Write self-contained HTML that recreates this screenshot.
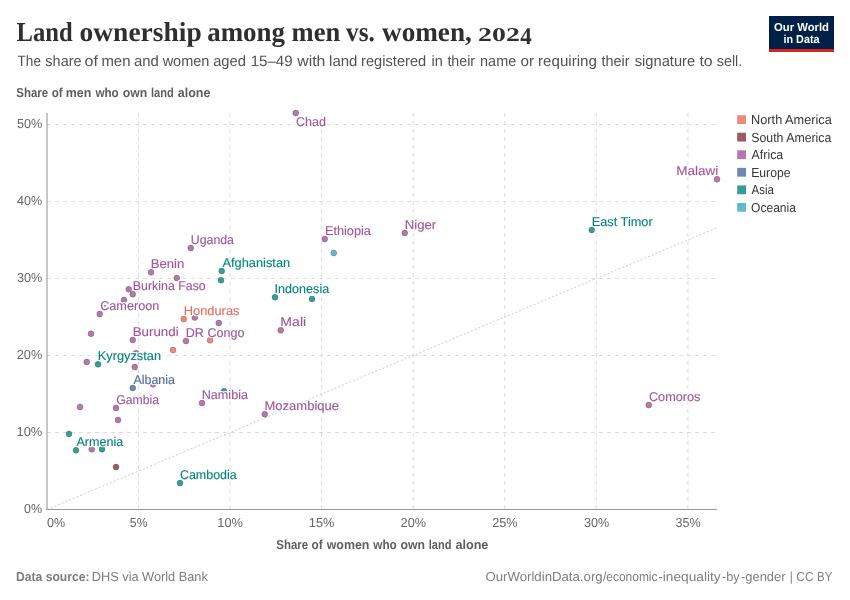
<!DOCTYPE html>
<html lang="en">
<head>
<meta charset="utf-8">
<title>Land ownership among men vs. women, 2024</title>
<style>
html,body{margin:0;padding:0;background:#fff;}
body{width:850px;height:600px;overflow:hidden;font-family:"Liberation Sans",sans-serif;}
svg{display:block;will-change:transform;}
text{font-family:"Liberation Sans",sans-serif;text-rendering:geometricPrecision;}
.serif{font-family:"Liberation Serif",serif;}
</style>
</head>
<body>
<svg width="850" height="600" viewBox="0 0 850 600">
<rect x="0" y="0" width="850" height="600" fill="#ffffff"/>

<text class="serif" x="16.62" y="40.7" font-size="27.4" font-weight="700" fill="#2f2f2f" textLength="56.01" lengthAdjust="spacingAndGlyphs">Land</text>
<text class="serif" x="79.54" y="40.7" font-size="27.4" font-weight="700" fill="#2f2f2f" textLength="122.17" lengthAdjust="spacingAndGlyphs">ownership</text>
<text class="serif" x="207.16" y="40.7" font-size="27.4" font-weight="700" fill="#2f2f2f" textLength="77.84" lengthAdjust="spacingAndGlyphs">among</text>
<text class="serif" x="291.59" y="40.7" font-size="27.4" font-weight="700" fill="#2f2f2f" textLength="48.66" lengthAdjust="spacingAndGlyphs">men</text>
<text class="serif" x="346.00" y="40.7" font-size="27.4" font-weight="700" fill="#2f2f2f" textLength="28.79" lengthAdjust="spacingAndGlyphs">vs.</text>
<text class="serif" x="382.00" y="40.7" font-size="27.4" font-weight="700" fill="#2f2f2f" textLength="89.85" lengthAdjust="spacingAndGlyphs">women,</text>
<text class="serif" x="478.13" y="40.6" font-size="19.6" font-weight="700" fill="#2f2f2f" textLength="41.74" lengthAdjust="spacingAndGlyphs">202</text>
<text class="serif" x="520.20" y="43.8" font-size="24" font-weight="700" fill="#2f2f2f" textLength="11.46" lengthAdjust="spacingAndGlyphs">4</text>
<text x="17.59" y="66.1" font-size="15" font-weight="400" fill="#525252" textLength="23.36" lengthAdjust="spacingAndGlyphs">The</text>
<text x="45.37" y="66.1" font-size="15" font-weight="400" fill="#525252" textLength="36.21" lengthAdjust="spacingAndGlyphs">share</text>
<text x="84.50" y="66.1" font-size="15" font-weight="400" fill="#525252" textLength="13.45" lengthAdjust="spacingAndGlyphs">of</text>
<text x="101.47" y="66.1" font-size="15" font-weight="400" fill="#525252" textLength="28.97" lengthAdjust="spacingAndGlyphs">men</text>
<text x="133.93" y="66.1" font-size="15" font-weight="400" fill="#525252" textLength="24.90" lengthAdjust="spacingAndGlyphs">and</text>
<text x="162.63" y="66.1" font-size="15" font-weight="400" fill="#525252" textLength="46.79" lengthAdjust="spacingAndGlyphs">women</text>
<text x="213.14" y="66.1" font-size="15" font-weight="400" fill="#525252" textLength="32.68" lengthAdjust="spacingAndGlyphs">aged</text>
<text x="250.66" y="66.1" font-size="15" font-weight="400" fill="#525252" textLength="41.95" lengthAdjust="spacingAndGlyphs">15–49</text>
<text x="297.25" y="66.1" font-size="15" font-weight="400" fill="#525252" textLength="28.04" lengthAdjust="spacingAndGlyphs">with</text>
<text x="329.06" y="66.1" font-size="15" font-weight="400" fill="#525252" textLength="28.38" lengthAdjust="spacingAndGlyphs">land</text>
<text x="361.08" y="66.1" font-size="15" font-weight="400" fill="#525252" textLength="65.14" lengthAdjust="spacingAndGlyphs">registered</text>
<text x="431.49" y="66.1" font-size="15" font-weight="400" fill="#525252" textLength="11.33" lengthAdjust="spacingAndGlyphs">in</text>
<text x="447.40" y="66.1" font-size="15" font-weight="400" fill="#525252" textLength="27.67" lengthAdjust="spacingAndGlyphs">their</text>
<text x="480.10" y="66.1" font-size="15" font-weight="400" fill="#525252" textLength="36.09" lengthAdjust="spacingAndGlyphs">name</text>
<text x="520.52" y="66.1" font-size="15" font-weight="400" fill="#525252" textLength="13.55" lengthAdjust="spacingAndGlyphs">or</text>
<text x="538.06" y="66.1" font-size="15" font-weight="400" fill="#525252" textLength="58.79" lengthAdjust="spacingAndGlyphs">requiring</text>
<text x="601.60" y="66.1" font-size="15" font-weight="400" fill="#525252" textLength="27.97" lengthAdjust="spacingAndGlyphs">their</text>
<text x="634.77" y="66.1" font-size="15" font-weight="400" fill="#525252" textLength="60.42" lengthAdjust="spacingAndGlyphs">signature</text>
<text x="699.40" y="66.1" font-size="15" font-weight="400" fill="#525252" textLength="13.24" lengthAdjust="spacingAndGlyphs">to</text>
<text x="716.78" y="66.1" font-size="15" font-weight="400" fill="#525252" textLength="25.52" lengthAdjust="spacingAndGlyphs">sell.</text>
<g><rect x="769" y="16" width="65" height="36" fill="#002147"/><rect x="769" y="49" width="65" height="3" fill="#CE261E"/>
<text x="801.5" y="30.6" font-size="11.5" font-weight="700" fill="#fff" text-anchor="middle" textLength="55" lengthAdjust="spacingAndGlyphs">Our World</text>
<text x="801.5" y="42.9" font-size="11.5" font-weight="700" fill="#fff" text-anchor="middle" textLength="36" lengthAdjust="spacingAndGlyphs">in Data</text></g>
<text x="16.32" y="96.6" font-size="13" font-weight="700" fill="#5e5e5e" textLength="31.76" lengthAdjust="spacingAndGlyphs">Share</text>
<text x="51.64" y="96.6" font-size="13" font-weight="700" fill="#5e5e5e" textLength="10.94" lengthAdjust="spacingAndGlyphs">of</text>
<text x="65.82" y="96.6" font-size="13" font-weight="700" fill="#5e5e5e" textLength="25.58" lengthAdjust="spacingAndGlyphs">men</text>
<text x="95.38" y="96.6" font-size="13" font-weight="700" fill="#5e5e5e" textLength="23.40" lengthAdjust="spacingAndGlyphs">who</text>
<text x="122.72" y="96.6" font-size="13" font-weight="700" fill="#5e5e5e" textLength="24.47" lengthAdjust="spacingAndGlyphs">own</text>
<text x="150.91" y="96.6" font-size="13" font-weight="700" fill="#5e5e5e" textLength="22.80" lengthAdjust="spacingAndGlyphs">land</text>
<text x="177.80" y="96.6" font-size="13" font-weight="700" fill="#5e5e5e" textLength="32.61" lengthAdjust="spacingAndGlyphs">alone</text>
<g stroke="#dddddd" stroke-width="1" stroke-dasharray="4,4" fill="none">
<line x1="47.00" y1="432.50" x2="715.00" y2="432.50"/>
<line x1="47.00" y1="355.50" x2="715.00" y2="355.50"/>
<line x1="47.00" y1="278.50" x2="715.00" y2="278.50"/>
<line x1="47.00" y1="201.50" x2="715.00" y2="201.50"/>
<line x1="47.00" y1="124.50" x2="715.00" y2="124.50"/>
<line x1="138.55" y1="113.00" x2="138.55" y2="509.50"/>
<line x1="230.10" y1="113.00" x2="230.10" y2="509.50"/>
<line x1="321.65" y1="113.00" x2="321.65" y2="509.50"/>
<line x1="413.20" y1="113.00" x2="413.20" y2="509.50"/>
<line x1="504.75" y1="113.00" x2="504.75" y2="509.50"/>
<line x1="596.30" y1="113.00" x2="596.30" y2="509.50"/>
<line x1="687.85" y1="113.00" x2="687.85" y2="509.50"/>
</g>
<line x1="47.00" y1="509.50" x2="717.00" y2="227.74" stroke="#cccccc" stroke-width="1" stroke-dasharray="2,2"/>
<line x1="47" y1="113.0" x2="47" y2="510" stroke="#8f8f8f" stroke-width="1"/>
<line x1="46.5" y1="509.5" x2="717.0" y2="509.5" stroke="#999999" stroke-width="1"/>
<text x="24.01" y="513.40" font-size="13" font-weight="400" fill="#666666" textLength="18.06" lengthAdjust="spacingAndGlyphs">0%</text>
<text x="16.49" y="436.40" font-size="13" font-weight="400" fill="#666666" textLength="25.79" lengthAdjust="spacingAndGlyphs">10%</text>
<text x="16.70" y="359.40" font-size="13" font-weight="400" fill="#666666" textLength="25.58" lengthAdjust="spacingAndGlyphs">20%</text>
<text x="16.90" y="282.40" font-size="13" font-weight="400" fill="#666666" textLength="25.37" lengthAdjust="spacingAndGlyphs">30%</text>
<text x="17.10" y="205.40" font-size="13" font-weight="400" fill="#666666" textLength="25.17" lengthAdjust="spacingAndGlyphs">40%</text>
<text x="16.90" y="128.40" font-size="13" font-weight="400" fill="#666666" textLength="25.37" lengthAdjust="spacingAndGlyphs">50%</text>
<text x="47.01" y="527.4" font-size="13" font-weight="400" fill="#666666" textLength="18.06" lengthAdjust="spacingAndGlyphs">0%</text>
<text x="129.87" y="527.4" font-size="13" font-weight="400" fill="#666666" textLength="17.65" lengthAdjust="spacingAndGlyphs">5%</text>
<text x="217.30" y="527.4" font-size="13" font-weight="400" fill="#666666" textLength="25.58" lengthAdjust="spacingAndGlyphs">10%</text>
<text x="308.85" y="527.4" font-size="13" font-weight="400" fill="#666666" textLength="25.58" lengthAdjust="spacingAndGlyphs">15%</text>
<text x="400.61" y="527.4" font-size="13" font-weight="400" fill="#666666" textLength="25.37" lengthAdjust="spacingAndGlyphs">20%</text>
<text x="492.16" y="527.4" font-size="13" font-weight="400" fill="#666666" textLength="25.37" lengthAdjust="spacingAndGlyphs">25%</text>
<text x="583.91" y="527.4" font-size="13" font-weight="400" fill="#666666" textLength="25.17" lengthAdjust="spacingAndGlyphs">30%</text>
<text x="675.46" y="527.4" font-size="13" font-weight="400" fill="#666666" textLength="25.17" lengthAdjust="spacingAndGlyphs">35%</text>
<text x="276.32" y="548.6" font-size="13" font-weight="700" fill="#5e5e5e" textLength="31.86" lengthAdjust="spacingAndGlyphs">Share</text>
<text x="311.53" y="548.6" font-size="13" font-weight="700" fill="#5e5e5e" textLength="11.14" lengthAdjust="spacingAndGlyphs">of</text>
<text x="326.69" y="548.6" font-size="13" font-weight="700" fill="#5e5e5e" textLength="42.71" lengthAdjust="spacingAndGlyphs">women</text>
<text x="373.28" y="548.6" font-size="13" font-weight="700" fill="#5e5e5e" textLength="23.50" lengthAdjust="spacingAndGlyphs">who</text>
<text x="400.62" y="548.6" font-size="13" font-weight="700" fill="#5e5e5e" textLength="24.47" lengthAdjust="spacingAndGlyphs">own</text>
<text x="428.71" y="548.6" font-size="13" font-weight="700" fill="#5e5e5e" textLength="22.70" lengthAdjust="spacingAndGlyphs">land</text>
<text x="455.40" y="548.6" font-size="13" font-weight="700" fill="#5e5e5e" textLength="33.01" lengthAdjust="spacingAndGlyphs">alone</text>
<g fill-opacity="0.8" stroke="#444444" stroke-opacity="0.55" stroke-width="0.6">
<circle cx="333.75" cy="253.05" r="2.95" fill="#38AABA"/>
<circle cx="176.75" cy="278.05" r="2.95" fill="#A2559C"/>
<circle cx="221.00" cy="280.30" r="2.95" fill="#00847E"/>
<circle cx="128.75" cy="289.30" r="2.95" fill="#A2559C"/>
<circle cx="124.00" cy="300.05" r="2.95" fill="#A2559C"/>
<circle cx="194.75" cy="317.55" r="2.95" fill="#A2559C"/>
<circle cx="218.75" cy="323.05" r="2.95" fill="#A2559C"/>
<circle cx="91.00" cy="333.80" r="2.95" fill="#A2559C"/>
<circle cx="210.00" cy="340.30" r="2.95" fill="#E56E5A"/>
<circle cx="173.00" cy="350.05" r="2.95" fill="#E56E5A"/>
<circle cx="86.75" cy="362.05" r="2.95" fill="#A2559C"/>
<circle cx="134.75" cy="367.05" r="2.95" fill="#A2559C"/>
<circle cx="136.00" cy="353.20" r="2.95" fill="#A2559C"/>
<circle cx="312.00" cy="299.05" r="2.95" fill="#00847E"/>
<circle cx="153.00" cy="384.30" r="2.95" fill="#A2559C"/>
<circle cx="224.00" cy="391.20" r="2.95" fill="#00847E"/>
<circle cx="80.00" cy="407.05" r="2.95" fill="#A2559C"/>
<circle cx="118.00" cy="420.05" r="2.95" fill="#A2559C"/>
<circle cx="69.00" cy="434.05" r="2.95" fill="#00847E"/>
<circle cx="91.75" cy="449.30" r="2.95" fill="#A2559C"/>
<circle cx="102.00" cy="449.30" r="2.95" fill="#00847E"/>
<circle cx="116.00" cy="467.05" r="2.95" fill="#883039"/>
</g>
<g font-size="12.7">
<text x="295.90" y="125.75" fill="#ffffff" stroke="#ffffff" stroke-width="2.4" stroke-linejoin="round" textLength="30.15" lengthAdjust="spacingAndGlyphs">Chad</text>
<text x="295.90" y="125.75" fill="#A2559C" stroke="#A2559C" stroke-width="0.12" textLength="30.15" lengthAdjust="spacingAndGlyphs">Chad</text>
<text x="676.18" y="175" fill="#ffffff" stroke="#ffffff" stroke-width="2.4" stroke-linejoin="round" textLength="42.19" lengthAdjust="spacingAndGlyphs">Malawi</text>
<text x="676.18" y="175" fill="#A2559C" stroke="#A2559C" stroke-width="0.12" textLength="42.19" lengthAdjust="spacingAndGlyphs">Malawi</text>
<text x="591.75" y="225.75" fill="#ffffff" stroke="#ffffff" stroke-width="2.4" stroke-linejoin="round" textLength="60.93" lengthAdjust="spacingAndGlyphs">East Timor</text>
<text x="591.75" y="225.75" fill="#00847E" stroke="#00847E" stroke-width="0.12" textLength="60.93" lengthAdjust="spacingAndGlyphs">East Timor</text>
<text x="324.90" y="234.8" fill="#ffffff" stroke="#ffffff" stroke-width="2.4" stroke-linejoin="round" textLength="46.07" lengthAdjust="spacingAndGlyphs">Ethiopia</text>
<text x="324.90" y="234.8" fill="#A2559C" stroke="#A2559C" stroke-width="0.12" textLength="46.07" lengthAdjust="spacingAndGlyphs">Ethiopia</text>
<text x="404.71" y="228.75" fill="#ffffff" stroke="#ffffff" stroke-width="2.4" stroke-linejoin="round" textLength="31.47" lengthAdjust="spacingAndGlyphs">Niger</text>
<text x="404.71" y="228.75" fill="#A2559C" stroke="#A2559C" stroke-width="0.12" textLength="31.47" lengthAdjust="spacingAndGlyphs">Niger</text>
<text x="190.78" y="243.7" fill="#ffffff" stroke="#ffffff" stroke-width="2.4" stroke-linejoin="round" textLength="43.19" lengthAdjust="spacingAndGlyphs">Uganda</text>
<text x="190.78" y="243.7" fill="#A2559C" stroke="#A2559C" stroke-width="0.12" textLength="43.19" lengthAdjust="spacingAndGlyphs">Uganda</text>
<text x="150.71" y="268" fill="#ffffff" stroke="#ffffff" stroke-width="2.4" stroke-linejoin="round" textLength="33.63" lengthAdjust="spacingAndGlyphs">Benin</text>
<text x="150.71" y="268" fill="#A2559C" stroke="#A2559C" stroke-width="0.12" textLength="33.63" lengthAdjust="spacingAndGlyphs">Benin</text>
<text x="222.50" y="266.7" fill="#ffffff" stroke="#ffffff" stroke-width="2.4" stroke-linejoin="round" textLength="67.62" lengthAdjust="spacingAndGlyphs">Afghanistan</text>
<text x="222.50" y="266.7" fill="#00847E" stroke="#00847E" stroke-width="0.12" textLength="67.62" lengthAdjust="spacingAndGlyphs">Afghanistan</text>
<text x="132.77" y="290" fill="#ffffff" stroke="#ffffff" stroke-width="2.4" stroke-linejoin="round" textLength="72.98" lengthAdjust="spacingAndGlyphs">Burkina Faso</text>
<text x="132.77" y="290" fill="#A2559C" stroke="#A2559C" stroke-width="0.12" textLength="72.98" lengthAdjust="spacingAndGlyphs">Burkina Faso</text>
<text x="100.15" y="310" fill="#ffffff" stroke="#ffffff" stroke-width="2.4" stroke-linejoin="round" textLength="59.16" lengthAdjust="spacingAndGlyphs">Cameroon</text>
<text x="100.15" y="310" fill="#A2559C" stroke="#A2559C" stroke-width="0.12" textLength="59.16" lengthAdjust="spacingAndGlyphs">Cameroon</text>
<text x="183.74" y="315" fill="#ffffff" stroke="#ffffff" stroke-width="2.4" stroke-linejoin="round" textLength="55.72" lengthAdjust="spacingAndGlyphs">Honduras</text>
<text x="183.74" y="315" fill="#E56E5A" stroke="#E56E5A" stroke-width="0.12" textLength="55.72" lengthAdjust="spacingAndGlyphs">Honduras</text>
<text x="132.70" y="335.75" fill="#ffffff" stroke="#ffffff" stroke-width="2.4" stroke-linejoin="round" textLength="45.91" lengthAdjust="spacingAndGlyphs">Burundi</text>
<text x="132.70" y="335.75" fill="#A2559C" stroke="#A2559C" stroke-width="0.12" textLength="45.91" lengthAdjust="spacingAndGlyphs">Burundi</text>
<text x="185.76" y="337" fill="#ffffff" stroke="#ffffff" stroke-width="2.4" stroke-linejoin="round" textLength="58.75" lengthAdjust="spacingAndGlyphs">DR Congo</text>
<text x="185.76" y="337" fill="#A2559C" stroke="#A2559C" stroke-width="0.12" textLength="58.75" lengthAdjust="spacingAndGlyphs">DR Congo</text>
<text x="97.74" y="359.75" fill="#ffffff" stroke="#ffffff" stroke-width="2.4" stroke-linejoin="round" textLength="63.33" lengthAdjust="spacingAndGlyphs">Kyrgyzstan</text>
<text x="97.74" y="359.75" fill="#00847E" stroke="#00847E" stroke-width="0.12" textLength="63.33" lengthAdjust="spacingAndGlyphs">Kyrgyzstan</text>
<text x="274.61" y="292.5" fill="#ffffff" stroke="#ffffff" stroke-width="2.4" stroke-linejoin="round" textLength="54.60" lengthAdjust="spacingAndGlyphs">Indonesia</text>
<text x="274.61" y="292.5" fill="#00847E" stroke="#00847E" stroke-width="0.12" textLength="54.60" lengthAdjust="spacingAndGlyphs">Indonesia</text>
<text x="280.39" y="325.75" fill="#ffffff" stroke="#ffffff" stroke-width="2.4" stroke-linejoin="round" textLength="25.77" lengthAdjust="spacingAndGlyphs">Mali</text>
<text x="280.39" y="325.75" fill="#A2559C" stroke="#A2559C" stroke-width="0.12" textLength="25.77" lengthAdjust="spacingAndGlyphs">Mali</text>
<text x="133.50" y="383.75" fill="#ffffff" stroke="#ffffff" stroke-width="2.4" stroke-linejoin="round" textLength="41.46" lengthAdjust="spacingAndGlyphs">Albania</text>
<text x="133.50" y="383.75" fill="#4C6A9C" stroke="#4C6A9C" stroke-width="0.12" textLength="41.46" lengthAdjust="spacingAndGlyphs">Albania</text>
<text x="116.17" y="403.75" fill="#ffffff" stroke="#ffffff" stroke-width="2.4" stroke-linejoin="round" textLength="42.79" lengthAdjust="spacingAndGlyphs">Gambia</text>
<text x="116.17" y="403.75" fill="#A2559C" stroke="#A2559C" stroke-width="0.12" textLength="42.79" lengthAdjust="spacingAndGlyphs">Gambia</text>
<text x="201.76" y="399" fill="#ffffff" stroke="#ffffff" stroke-width="2.4" stroke-linejoin="round" textLength="46.21" lengthAdjust="spacingAndGlyphs">Namibia</text>
<text x="201.76" y="399" fill="#A2559C" stroke="#A2559C" stroke-width="0.12" textLength="46.21" lengthAdjust="spacingAndGlyphs">Namibia</text>
<text x="76.50" y="445.5" fill="#ffffff" stroke="#ffffff" stroke-width="2.4" stroke-linejoin="round" textLength="46.71" lengthAdjust="spacingAndGlyphs">Armenia</text>
<text x="76.50" y="445.5" fill="#00847E" stroke="#00847E" stroke-width="0.12" textLength="46.71" lengthAdjust="spacingAndGlyphs">Armenia</text>
<text x="179.91" y="479" fill="#ffffff" stroke="#ffffff" stroke-width="2.4" stroke-linejoin="round" textLength="56.80" lengthAdjust="spacingAndGlyphs">Cambodia</text>
<text x="179.91" y="479" fill="#00847E" stroke="#00847E" stroke-width="0.12" textLength="56.80" lengthAdjust="spacingAndGlyphs">Cambodia</text>
<text x="264.47" y="409.5" fill="#ffffff" stroke="#ffffff" stroke-width="2.4" stroke-linejoin="round" textLength="74.60" lengthAdjust="spacingAndGlyphs">Mozambique</text>
<text x="264.47" y="409.5" fill="#A2559C" stroke="#A2559C" stroke-width="0.12" textLength="74.60" lengthAdjust="spacingAndGlyphs">Mozambique</text>
<text x="648.90" y="400.75" fill="#ffffff" stroke="#ffffff" stroke-width="2.4" stroke-linejoin="round" textLength="51.55" lengthAdjust="spacingAndGlyphs">Comoros</text>
<text x="648.90" y="400.75" fill="#A2559C" stroke="#A2559C" stroke-width="0.12" textLength="51.55" lengthAdjust="spacingAndGlyphs">Comoros</text>
</g>
<circle cx="105.0" cy="305.9" r="1.15" fill="#A2559C" fill-opacity="0.7"/>
<g fill-opacity="0.8" stroke="#444444" stroke-opacity="0.55" stroke-width="0.6">
<circle cx="295.75" cy="113.05" r="2.95" fill="#A2559C"/>
<circle cx="717.00" cy="179.30" r="2.95" fill="#A2559C"/>
<circle cx="591.75" cy="230.05" r="2.95" fill="#00847E"/>
<circle cx="324.75" cy="239.05" r="2.95" fill="#A2559C"/>
<circle cx="404.75" cy="233.05" r="2.95" fill="#A2559C"/>
<circle cx="190.75" cy="248.05" r="2.95" fill="#A2559C"/>
<circle cx="151.00" cy="272.30" r="2.95" fill="#A2559C"/>
<circle cx="221.75" cy="271.05" r="2.95" fill="#00847E"/>
<circle cx="132.75" cy="294.30" r="2.95" fill="#A2559C"/>
<circle cx="99.75" cy="314.05" r="2.95" fill="#A2559C"/>
<circle cx="183.75" cy="319.05" r="2.95" fill="#E56E5A"/>
<circle cx="132.75" cy="340.05" r="2.95" fill="#A2559C"/>
<circle cx="186.00" cy="341.05" r="2.95" fill="#A2559C"/>
<circle cx="98.00" cy="364.30" r="2.95" fill="#00847E"/>
<circle cx="275.00" cy="297.30" r="2.95" fill="#00847E"/>
<circle cx="280.75" cy="330.30" r="2.95" fill="#A2559C"/>
<circle cx="132.75" cy="388.05" r="2.95" fill="#4C6A9C"/>
<circle cx="202.00" cy="403.05" r="2.95" fill="#A2559C"/>
<circle cx="116.00" cy="408.05" r="2.95" fill="#A2559C"/>
<circle cx="76.00" cy="450.30" r="2.95" fill="#00847E"/>
<circle cx="180.00" cy="483.05" r="2.95" fill="#00847E"/>
<circle cx="264.75" cy="414.30" r="2.95" fill="#A2559C"/>
<circle cx="648.75" cy="405.05" r="2.95" fill="#A2559C"/>
</g>
<g font-size="13" fill="#3a3a3a">
<rect x="737.2" y="115.20" width="8.8" height="8.8" fill="#E56E5A" fill-opacity="0.8"/>
<text x="751.11" y="124.20" font-size="13" font-weight="400" fill="#363636" textLength="80.61" lengthAdjust="spacingAndGlyphs">North America</text>
<rect x="737.2" y="132.75" width="8.8" height="8.8" fill="#883039" fill-opacity="0.8"/>
<text x="751.32" y="141.75" font-size="13" font-weight="400" fill="#363636" textLength="80.00" lengthAdjust="spacingAndGlyphs">South America</text>
<rect x="737.2" y="150.30" width="8.8" height="8.8" fill="#A2559C" fill-opacity="0.8"/>
<text x="751.60" y="159.30" font-size="13" font-weight="400" fill="#363636" textLength="31.62" lengthAdjust="spacingAndGlyphs">Africa</text>
<rect x="737.2" y="167.85" width="8.8" height="8.8" fill="#4C6A9C" fill-opacity="0.8"/>
<text x="751.15" y="176.85" font-size="13" font-weight="400" fill="#363636" textLength="39.35" lengthAdjust="spacingAndGlyphs">Europe</text>
<rect x="737.2" y="185.40" width="8.8" height="8.8" fill="#00847E" fill-opacity="0.8"/>
<text x="751.60" y="194.40" font-size="13" font-weight="400" fill="#363636" textLength="22.23" lengthAdjust="spacingAndGlyphs">Asia</text>
<rect x="737.2" y="202.95" width="8.8" height="8.8" fill="#38AABA" fill-opacity="0.8"/>
<text x="751.04" y="211.95" font-size="13" font-weight="400" fill="#363636" textLength="44.89" lengthAdjust="spacingAndGlyphs">Oceania</text>
</g>
<text x="16.04" y="581" font-size="13" font-weight="700" fill="#7d7d7d" textLength="73.46" lengthAdjust="spacingAndGlyphs">Data source:</text>
<text x="91.80" y="581" font-size="13" font-weight="400" fill="#7d7d7d" textLength="116.00" lengthAdjust="spacingAndGlyphs">DHS via World Bank</text>
<text x="485.48" y="581" font-size="13" font-weight="400" fill="#7d7d7d" textLength="117.16" lengthAdjust="spacingAndGlyphs">OurWorldinData.org</text>
<text x="603.00" y="581" font-size="13" font-weight="400" fill="#7d7d7d" textLength="54.49" lengthAdjust="spacingAndGlyphs">/economic</text>
<text x="658.27" y="581" font-size="13" font-weight="400" fill="#7d7d7d" textLength="62.43" lengthAdjust="spacingAndGlyphs">-inequality</text>
<text x="722.10" y="581" font-size="13" font-weight="400" fill="#7d7d7d" textLength="17.60" lengthAdjust="spacingAndGlyphs">-by</text>
<text x="741.00" y="581" font-size="13" font-weight="400" fill="#7d7d7d" textLength="44.47" lengthAdjust="spacingAndGlyphs">-gender</text>
<text x="789.68" y="581" font-size="13" font-weight="400" fill="#7d7d7d" textLength="3.05" lengthAdjust="spacingAndGlyphs">|</text>
<text x="796.34" y="581" font-size="13" font-weight="400" fill="#7d7d7d" textLength="17.28" lengthAdjust="spacingAndGlyphs">CC</text>
<text x="817.11" y="581" font-size="13" font-weight="400" fill="#7d7d7d" textLength="15.21" lengthAdjust="spacingAndGlyphs">BY</text>
</svg>
</body>
</html>
